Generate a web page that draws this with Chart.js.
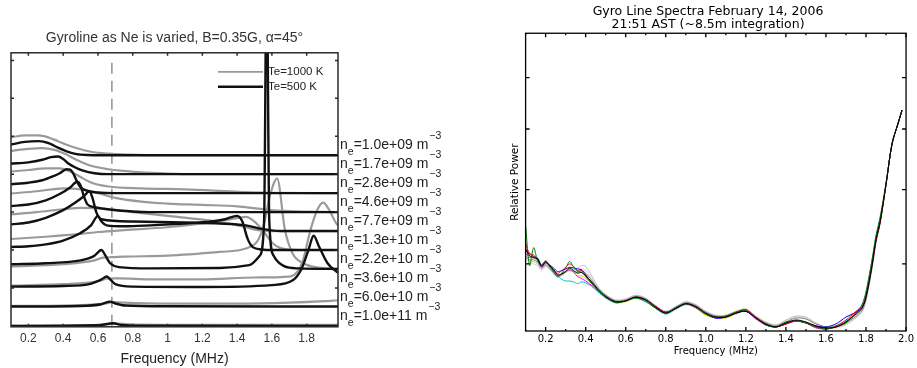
<!DOCTYPE html>
<html>
<head>
<meta charset="utf-8">
<script src="https://cdn.jsdelivr.net/npm/chart.js@4"></script>
<style>
  body { margin: 0; background: #fff; }
  #wrap { position: relative; width: 917px; height: 368px; }
  #gyroModel { position: absolute; left: 0; top: 0; filter: blur(0.5px); }
  #gyroData { position: absolute; left: 460px; top: 0; }
</style>
</head>
<body>
<div id="wrap">
  <canvas id="gyroModel" width="460" height="368"></canvas>
  <canvas id="gyroData" width="457" height="368"></canvas>
</div>
<script>
// ---- model spectra: one row per electron density, top row first ----
const densities = ["1.0e+09", "1.7e+09", "2.8e+09", "4.6e+09", "7.7e+09",
                   "1.3e+10", "2.2e+10", "3.6e+10", "6.0e+10", "1.0e+11"];

// [frequency MHz, height above the row's own baseline]
const te500 = [
  [[0.1,0.56],[0.18,0.7],[0.26,0.74],[0.32,0.62],[0.37,0.4],[0.42,0.2],[0.47,0.07],[0.54,0.01],[0.62,0],[1.98,0]],
  [[0.1,0.56],[0.2,0.62],[0.28,0.76],[0.33,0.9],[0.37,0.93],[0.4,0.8],[0.43,0.56],[0.47,0.35],[0.51,0.2],[0.58,0.05],[0.66,0],[1.98,0]],
  [[0.1,0.47],[0.2,0.55],[0.28,0.68],[0.34,0.88],[0.38,1.05],[0.42,1.26],[0.44,1.24],[0.46,1.0],[0.48,0.6],[0.5,0.3],[0.54,0.12],[0.6,0.03],[0.7,0],[1.98,0]],
  [[0.1,0.32],[0.2,0.4],[0.3,0.62],[0.38,0.95],[0.44,1.3],[0.48,1.6],[0.5,1.4],[0.52,0.8],[0.54,0.4],[0.58,0.26],[0.68,0.12],[0.8,0.03],[0.9,0],[1.98,0]],
  [[0.1,0.35],[0.2,0.45],[0.3,0.7],[0.4,1.1],[0.47,1.5],[0.52,1.85],[0.55,2.1],[0.57,1.7],[0.59,1.0],[0.62,0.62],[0.8,0.5],[1.1,0.45],[1.3,0.4],[1.45,0.3],[1.55,0.1],[1.65,0],[1.98,0]],
  [[0.1,0.16],[0.2,0.2],[0.3,0.3],[0.4,0.5],[0.5,0.9],[0.56,1.3],[0.6,1.8],[0.62,1.5],[0.65,1.3],[0.75,1.25],[0.9,1.3],[1.1,1.4],[1.25,1.5],[1.33,1.62],[1.4,1.8],[1.43,1.5],[1.46,0.6],[1.49,0.15],[1.54,0.03],[1.6,0],[1.98,0]],
  [[0.1,0.25],[0.3,0.3],[0.5,0.45],[0.58,0.7],[0.62,1.0],[0.64,0.75],[0.67,0.3],[0.72,0.1],[0.9,0.03],[1.3,0.05],[1.47,0.2],[1.53,0.7],[1.555,2.5],[1.57,16],[1.585,2.5],[1.61,0.7],[1.67,0.15],[1.75,0.03],[1.98,0]],
  [[0.1,0.07],[0.4,0.1],[0.55,0.2],[0.62,0.45],[0.65,0.6],[0.67,0.45],[0.7,0.2],[0.8,0.07],[1.2,0.05],[1.6,0.15],[1.72,0.4],[1.77,1.0],[1.81,2.0],[1.84,2.75],[1.87,2.2],[1.92,1.3],[1.98,0.8]],
  [[0.1,0.02],[0.5,0.05],[0.62,0.14],[0.67,0.28],[0.7,0.18],[0.76,0.07],[1.0,0.03],[1.98,0.02]],
  [[0.1,0],[0.6,0.03],[0.69,0.14],[0.73,0.05],[0.85,0.01],[1.98,0]]
];

const te1000 = [
  [[0.1,0.95],[0.18,1.04],[0.26,1.04],[0.32,0.92],[0.37,0.74],[0.42,0.55],[0.47,0.39],[0.56,0.18],[0.66,0.08],[0.78,0.03],[0.95,0],[1.98,0]],
  [[0.1,1.23],[0.2,1.33],[0.28,1.37],[0.35,1.28],[0.41,1.07],[0.47,0.79],[0.56,0.44],[0.66,0.26],[0.75,0.17],[0.85,0.09],[1.0,0.03],[1.15,0],[1.98,0]],
  [[0.1,1.14],[0.2,1.22],[0.3,1.3],[0.38,1.3],[0.45,1.1],[0.5,0.85],[0.56,0.56],[0.66,0.35],[0.85,0.25],[1.1,0.2],[1.3,0.12],[1.45,0.05],[1.6,0.02],[1.98,0]],
  [[0.1,0.98],[0.25,1.1],[0.4,1.25],[0.5,1.2],[0.6,1.0],[0.7,0.75],[0.85,0.55],[1.0,0.45],[1.2,0.38],[1.4,0.3],[1.55,0.15],[1.7,0.05],[1.98,0]],
  [[0.1,0.88],[0.25,1.0],[0.4,1.15],[0.5,1.22],[0.6,1.2],[0.8,1.0],[1.0,0.8],[1.2,0.6],[1.35,0.4],[1.45,0.2],[1.52,0.05],[1.6,0],[1.98,0]],
  [[0.1,0.58],[0.3,0.7],[0.5,0.85],[0.6,0.95],[0.75,1.05],[1.0,1.2],[1.2,1.4],[1.35,1.6],[1.45,1.75],[1.5,1.5],[1.55,1.0],[1.6,0.4],[1.65,0.1],[1.75,0],[1.98,0]],
  [[0.1,0.12],[0.4,0.25],[0.58,0.45],[0.63,0.6],[0.68,0.62],[0.75,0.65],[1.0,0.7],[1.3,0.9],[1.5,1.3],[1.55,2.2],[1.59,3.9],[1.63,4.77],[1.675,2.05],[1.72,0.8],[1.78,0.3],[1.85,0.1],[1.98,0]],
  [[0.1,0.12],[0.4,0.2],[0.6,0.35],[0.66,0.5],[0.72,0.5],[0.9,0.45],[1.2,0.45],[1.5,0.55],[1.7,0.6],[1.75,0.9],[1.78,1.5],[1.82,3.0],[1.86,4.1],[1.895,4.5],[1.93,4.1],[1.97,3.4],[1.98,3.3]],
  [[0.1,0.05],[0.5,0.1],[0.64,0.18],[0.69,0.25],[0.75,0.22],[1.0,0.17],[1.4,0.17],[1.7,0.22],[1.9,0.3],[1.98,0.35]],
  [[0.1,0],[0.6,0.04],[0.7,0.12],[0.78,0.08],[1.2,0.05],[1.98,0.05]]
];

const gyroFreq = 0.68;                 // dashed reference line
const modelFreqTicks = [0.2, 0.4, 0.6, 0.8, 1, 1.2, 1.4, 1.6, 1.8];
const modelOffsetTicks = [2, 4, 6, 8, 10, 12, 14];

// ---- measured spectra, Feb 14 2006 ----
const specFreq = [0.10,0.12,0.14,0.16,0.18,0.20,0.22,0.24,0.26,0.28,0.30,0.32,0.34,0.36,0.38,0.40,0.43,0.46,0.50,0.55,
  0.60,0.65,0.70,0.75,0.80,0.85,0.90,0.95,1.00,1.05,1.10,1.15,1.20,1.25,1.30,1.35,1.40,1.45,1.50,1.55,
  1.60,1.65,1.70,1.75,1.78,1.80,1.83,1.85,1.87,1.90,1.93,1.96,1.98];

const specBlack = [4.19,4.10,4.08,4.06,3.97,4.02,3.98,3.93,3.87,3.88,3.91,3.95,3.92,3.89,3.90,3.86,3.79,3.71,3.63,3.57,3.58,3.62,3.59,3.51,3.45,3.50,3.55,3.52,3.45,3.41,3.41,3.45,3.47,3.40,3.34,3.31,3.35,3.38,3.36,3.32,3.30,3.31,3.36,3.44,3.50,3.62,3.98,4.30,4.53,5.08,5.74,6.10,6.35];
const specGreen = [4.49,3.98,4.20,4.04,3.98,4.03,3.97,3.90,3.85,3.89,3.95,4.03,3.96,3.91,3.90,3.85,3.77,3.70,3.62,3.56,3.58,3.61,3.57,3.50,3.45,3.51,3.55,3.51,3.44,3.41,3.42,3.46,3.48,3.40,3.33,3.31,3.36,3.37,3.35,3.31,3.29,3.31,3.35,3.46,3.54,3.68,4.05,4.36,4.60,5.10,5.74,6.10,6.35];
const specRed = [4.26,4.12,4.11,4.05,3.99,4.04,3.98,3.93,3.89,3.92,3.96,4.00,3.97,3.92,3.92,3.87,3.78,3.70,3.62,3.57,3.58,3.62,3.59,3.52,3.46,3.50,3.55,3.51,3.44,3.41,3.42,3.46,3.49,3.41,3.34,3.31,3.34,3.37,3.35,3.31,3.29,3.32,3.38,3.47,3.52,3.63,3.99,4.30,4.53,5.08,5.74,6.10,6.35];
const specBlue = [4.16,4.13,4.09,4.07,3.98,4.03,3.99,3.95,3.91,3.92,3.94,3.96,3.95,3.94,3.93,3.87,3.78,3.70,3.62,3.57,3.58,3.62,3.59,3.52,3.46,3.50,3.55,3.51,3.44,3.40,3.41,3.45,3.47,3.40,3.33,3.31,3.34,3.37,3.35,3.32,3.31,3.34,3.41,3.46,3.51,3.62,3.98,4.30,4.53,5.08,5.74,6.10,6.35];
const specMagenta = [4.13,4.08,4.08,4.04,3.96,4.01,3.97,3.92,3.87,3.88,3.91,3.93,3.90,3.85,3.83,3.80,3.75,3.69,3.62,3.57,3.58,3.62,3.59,3.51,3.45,3.50,3.55,3.52,3.45,3.40,3.41,3.45,3.47,3.39,3.33,3.31,3.34,3.37,3.35,3.30,3.29,3.31,3.36,3.45,3.51,3.63,3.99,4.30,4.53,5.08,5.74,6.10,6.35];
const specCyan = [4.12,4.10,4.07,4.07,3.98,4.03,3.97,3.91,3.86,3.82,3.80,3.80,3.79,3.77,3.79,3.78,3.74,3.68,3.61,3.56,3.58,3.61,3.58,3.50,3.44,3.49,3.54,3.51,3.44,3.40,3.41,3.45,3.47,3.40,3.33,3.31,3.35,3.37,3.35,3.31,3.30,3.32,3.37,3.45,3.52,3.66,4.04,4.34,4.57,5.08,5.74,6.10,6.35];
const specYellow = [4.15,4.08,4.07,4.04,3.97,4.01,3.97,3.92,3.87,3.88,3.90,3.93,3.90,3.86,3.86,3.83,3.77,3.70,3.62,3.56,3.57,3.61,3.58,3.50,3.45,3.50,3.55,3.50,3.43,3.40,3.40,3.44,3.47,3.40,3.34,3.31,3.34,3.37,3.35,3.31,3.31,3.32,3.36,3.44,3.50,3.62,3.98,4.30,4.53,5.08,5.74,6.10,6.35];
const specGray = [4.10,4.05,4.05,4.02,3.95,3.99,3.95,3.90,3.85,3.87,3.90,3.93,3.91,3.90,3.92,3.89,3.81,3.72,3.64,3.58,3.59,3.63,3.60,3.52,3.46,3.51,3.56,3.53,3.46,3.42,3.42,3.46,3.48,3.41,3.35,3.32,3.36,3.40,3.39,3.34,3.31,3.31,3.35,3.42,3.48,3.60,3.96,4.28,4.52,5.08,5.74,6.10,6.35];
const specSilver = [4.08,4.04,4.03,4.00,3.94,3.98,3.94,3.89,3.85,3.88,3.92,3.95,3.93,3.95,3.98,3.97,3.86,3.74,3.65,3.59,3.60,3.64,3.61,3.53,3.47,3.52,3.57,3.54,3.47,3.43,3.43,3.47,3.49,3.42,3.36,3.33,3.38,3.42,3.41,3.35,3.31,3.31,3.34,3.41,3.47,3.59,3.95,4.27,4.51,5.08,5.74,6.10,6.35];
const specPale = [4.06,4.02,4.00,3.98,3.92,3.97,3.93,3.88,3.84,3.86,3.90,3.92,3.91,3.92,3.94,3.92,3.83,3.73,3.64,3.58,3.60,3.64,3.61,3.52,3.46,3.52,3.57,3.53,3.46,3.42,3.42,3.46,3.49,3.41,3.35,3.32,3.37,3.41,3.40,3.34,3.30,3.30,3.33,3.40,3.46,3.58,3.94,4.26,4.50,5.08,5.74,6.10,6.35];

const specFreqTicks = [0.2, 0.4, 0.6, 0.8, 1.0, 1.2, 1.4, 1.6, 1.8, 2.0];
const specMinorTicks = [0.1, 0.3, 0.5, 0.7, 0.9, 1.1, 1.3, 1.5, 1.7, 1.9];
const powerTicks = [4, 5, 6, 7];

// box with inward tick marks on all four sides
function makeFrame(cfg) {
  return {
    id: "frame",
    afterDatasetsDraw(chart) {
      const { ctx, chartArea: a, scales } = chart;
      ctx.save();
      ctx.strokeStyle = cfg.color;
      ctx.lineWidth = cfg.width;
      ctx.strokeRect(a.left, a.top, a.right - a.left, a.bottom - a.top);
      ctx.beginPath();
      const vert = (vals, len) => vals.forEach((v) => {
        const x = scales.x.getPixelForValue(v);
        ctx.moveTo(x, a.bottom); ctx.lineTo(x, a.bottom - len);
        ctx.moveTo(x, a.top); ctx.lineTo(x, a.top + len);
      });
      const horiz = (vals, len) => vals.forEach((v) => {
        const y = scales.y.getPixelForValue(v);
        ctx.moveTo(a.left, y); ctx.lineTo(a.left + len, y);
        ctx.moveTo(a.right, y); ctx.lineTo(a.right - len, y);
      });
      vert(cfg.xMajor, cfg.len);
      if (cfg.xMinor) vert(cfg.xMinor, cfg.minorLen);
      horiz(cfg.yMajor, cfg.len);
      ctx.stroke();
      if (cfg.xTitle) {
        ctx.fillStyle = cfg.color;
        ctx.font = cfg.xTitleFont;
        ctx.textAlign = "center";
        ctx.textBaseline = "middle";
        ctx.fillText(cfg.xTitle, (a.left + a.right) / 2, a.bottom + cfg.xTitleGap);
      }
      ctx.restore();
    }
  };
}

// ---------------- left: model gyroline spectra ----------------
const modelSets = [];
densities.forEach((d, i) => {
  const offset = densities.length - 1 - i;
  modelSets.push({
    data: te1000[i].map((p) => ({ x: p[0], y: p[1] + offset })),
    borderColor: "#9a9a9a", borderWidth: 2.2, order: 1
  });
  modelSets.push({
    data: te500[i].map((p) => ({ x: p[0], y: p[1] + offset })),
    borderColor: "#111", borderWidth: 2.4, order: 0
  });
});

const modelDecor = {
  id: "modelDecor",
  beforeDatasetsDraw(chart) {
    const { ctx, chartArea: a, scales } = chart;
    const x = scales.x.getPixelForValue(gyroFreq);
    ctx.save();
    ctx.strokeStyle = "#8a8a8a";
    ctx.lineWidth = 1.4;
    ctx.setLineDash([11, 7]);
    ctx.beginPath();
    ctx.moveTo(x, a.top + 10); ctx.lineTo(x, a.bottom);
    ctx.stroke();
    ctx.restore();
  },
  afterDraw(chart) {
    const { ctx, chartArea: a, scales } = chart;
    ctx.save();
    // legend
    ctx.font = "11.5px 'Liberation Sans', Arial, sans-serif";
    ctx.fillStyle = "#222";
    ctx.textBaseline = "middle";
    [["#9a9a9a", 1.8, "Te=1000 K", 19], ["#111", 2.4, "Te=500 K", 34]].forEach(([c, w, t, dy]) => {
      const y = a.top + dy;
      ctx.strokeStyle = c; ctx.lineWidth = w;
      ctx.beginPath(); ctx.moveTo(a.right - 120, y); ctx.lineTo(a.right - 75, y); ctx.stroke();
      ctx.fillText(t, a.right - 70, y);
    });
    // density labels beside each row
    ctx.textBaseline = "alphabetic";
    densities.forEach((d, i) => {
      const y = scales.y.getPixelForValue(densities.length - 1 - i);
      let x = a.right + 2;
      ctx.font = "14px 'Liberation Sans', Arial, sans-serif";
      ctx.fillText("n", x, y - 6);
      x += ctx.measureText("n").width;
      ctx.font = "10.5px 'Liberation Sans', Arial, sans-serif";
      ctx.fillText("e", x, y);
      x += ctx.measureText("e").width;
      ctx.font = "14px 'Liberation Sans', Arial, sans-serif";
      const body = "=" + d + " m";
      ctx.fillText(body, x, y - 6);
      x += ctx.measureText(body).width + 1;
      ctx.font = "10.5px 'Liberation Sans', Arial, sans-serif";
      ctx.fillText("\u22123", x, y - 16);
    });
    ctx.restore();
  }
};

new Chart(document.getElementById("gyroModel"), {
  type: "line",
  data: { datasets: modelSets },
  options: {
    responsive: false,
    animation: false,
    events: [],
    layout: { padding: { left: 11, right: 122, top: 0, bottom: 0 } },
    elements: { point: { radius: 0 }, line: { cubicInterpolationMode: "monotone" } },
    plugins: {
      legend: { display: false },
      tooltip: { enabled: false },
      title: {
        display: true,
        text: "Gyroline as Ne is varied, B=0.35G, \u03b1=45\u00b0",
        color: "#333",
        font: { family: "'Liberation Sans', Arial, sans-serif", size: 14, weight: "normal" },
        padding: { top: 30, bottom: 6 }
      }
    },
    scales: {
      x: {
        type: "linear", min: 0.1, max: 1.98,
        afterBuildTicks: (s) => { s.ticks = modelFreqTicks.map((v) => ({ value: v })); },
        ticks: { callback: (v) => String(v), color: "#333", padding: 5,
                 font: { family: "'Liberation Sans', Arial, sans-serif", size: 12 } },
        grid: { drawOnChartArea: false, drawTicks: false },
        border: { display: false },
        title: { display: true, text: "Frequency (MHz)", color: "#222", padding: { top: 0, bottom: 0 },
                 font: { family: "'Liberation Sans', Arial, sans-serif", size: 14 } }
      },
      y: {
        type: "linear", min: -0.05, max: 14.4,
        ticks: { display: false },
        grid: { drawOnChartArea: false, drawTicks: false },
        border: { display: false }
      }
    }
  },
  plugins: [modelDecor, makeFrame({ color: "#2a2a2a", width: 1.5, len: 3, xMajor: modelFreqTicks, yMajor: modelOffsetTicks })]
});

// ---------------- right: measured spectra ----------------
const specSeries = [
  ["#000000", specBlack], ["#008000", specGreen], ["#ff0000", specRed], ["#0000ff", specBlue],
  ["#ff00ff", specMagenta], ["#00bfbf", specCyan], ["#d8d800", specYellow], ["#808080", specGray],
  ["#bdbdbd", specSilver], ["#d0d0d0", specPale]
];

new Chart(document.getElementById("gyroData"), {
  type: "line",
  data: {
    datasets: specSeries.map(([c, vals]) => ({
      data: vals.map((v, i) => ({ x: specFreq[i], y: v })),
      borderColor: c, borderWidth: 1
    }))
  },
  options: {
    responsive: false,
    animation: false,
    events: [],
    layout: { padding: { left: 49, right: 10, top: 0, bottom: 21 } },
    elements: { point: { radius: 0 }, line: { tension: 0.3 } },
    plugins: {
      legend: { display: false },
      tooltip: { enabled: false },
      title: {
        display: true,
        text: ["Gyro Line Spectra February 14, 2006", "21:51 AST (~8.5m integration)"],
        color: "#000",
        font: { family: "'DejaVu Sans', sans-serif", size: 12.5, weight: "normal", lineHeight: 1.05 },
        padding: { top: 5, bottom: 2 }
      }
    },
    scales: {
      x: {
        type: "linear", min: 0.1, max: 2.0,
        afterBuildTicks: (s) => { s.ticks = specFreqTicks.map((v) => ({ value: v })); },
        ticks: { callback: (v) => v.toFixed(1), color: "#000", padding: 3, maxRotation: 0,
                 font: { family: "'DejaVu Sans', sans-serif", size: 10, lineHeight: 1 } },
        grid: { drawOnChartArea: false, drawTicks: false },
        border: { display: false }
      },
      y: {
        type: "logarithmic", min: 3.27, max: 8.0,
        afterBuildTicks: (s) => { s.ticks = powerTicks.map((v) => ({ value: v })); },
        ticks: { display: false },
        grid: { drawOnChartArea: false, drawTicks: false },
        border: { display: false },
        title: { display: true, text: "Relative Power", color: "#000", padding: { top: 0, bottom: 4 },
                 font: { family: "'DejaVu Sans', sans-serif", size: 10.5 } }
      }
    }
  },
  plugins: [makeFrame({ color: "#000", width: 1.3, len: 4, minorLen: 2, xMajor: specFreqTicks, xMinor: specMinorTicks, yMajor: powerTicks,
                        xTitle: "Frequency (MHz)", xTitleFont: "10px 'DejaVu Sans', sans-serif", xTitleGap: 20 })]
});
</script>
</body>
</html>
